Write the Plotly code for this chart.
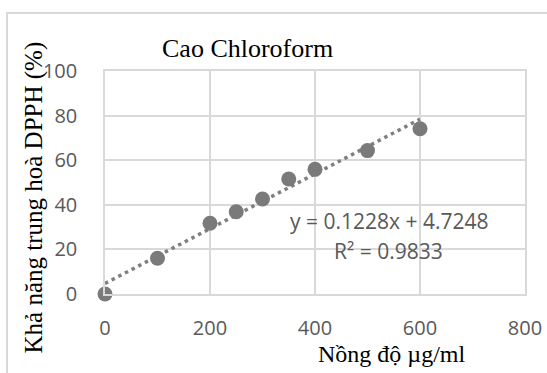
import plotly.graph_objects as go

# Data
concentration = [0, 100, 200, 250, 300, 350, 400, 500, 600]
inhibition = [0, 16.0, 31.7, 36.9, 42.6, 51.6, 55.9, 64.3, 74.1]

# Trendline as displayed in the chart
slope = 0.1228
intercept = 4.7248
r_squared = 0.9833
trend_x = [min(concentration), max(concentration)]
trend_y = [slope * v + intercept for v in trend_x]

x_ticks = [0, 200, 400, 600, 800]
y_ticks = [0, 20, 40, 60, 80, 100]

title_text = "Cao Chloroform"
x_title = "Nồng độ µg/ml"
y_title = "Khả năng trung hoà DPPH (%)"

grid = "#d9d9d9"
mark = "#7a7a7a"
tickc = "#595959"

fig = go.Figure()
fig.add_trace(go.Scatter(
    x=trend_x, y=trend_y, mode="lines",
    line=dict(color="#7f7f7f", width=3.5, dash="3.5px,4px"),
    hoverinfo="skip", showlegend=False, cliponaxis=False))
fig.add_trace(go.Scatter(
    x=concentration, y=inhibition, mode="markers",
    marker=dict(color=mark, size=15, line=dict(width=0)),
    showlegend=False, cliponaxis=False))

fig.update_layout(
    width=547, height=373,
    margin=dict(l=105, r=22, t=71, b=79, autoexpand=False),
    paper_bgcolor="white", plot_bgcolor="white",
    showlegend=False,
    xaxis=dict(range=[0, 800], tickvals=x_ticks, showgrid=True, gridcolor=grid,
               gridwidth=1.5, zeroline=False, showline=True, linecolor=grid,
               linewidth=1.5, mirror=True, ticks="", automargin=False,
               tickfont=dict(family="Open Sans", size=20, color=tickc),
               ticklabelstandoff=15),
    yaxis=dict(range=[0, 100], tickvals=y_ticks, showgrid=True, gridcolor=grid,
               gridwidth=1.5, zeroline=False, showline=True, linecolor=grid,
               linewidth=1.5, mirror=True, ticks="", automargin=False,
               tickfont=dict(family="Open Sans", size=20, color=tickc),
               ticklabelstandoff=22),
)

serif = "Liberation Serif"
fig.add_annotation(text=title_text, xref="paper", yref="paper", x=0.340, y=1.103,
                   xanchor="center", yanchor="middle", showarrow=False,
                   font=dict(family=serif, size=26, color="black"))
fig.add_annotation(text=x_title, xref="paper", yref="paper", x=0.681, y=-0.269,
                   xanchor="center", yanchor="middle", showarrow=False,
                   font=dict(family=serif, size=24, color="black"))
fig.add_annotation(text=y_title, xref="paper", yref="paper", x=-0.1714, y=0.4327,
                   xanchor="center", yanchor="middle", showarrow=False, textangle=-90,
                   font=dict(family=serif, size=25, color="black"))
fig.add_annotation(text=f"y = {slope}x + {intercept}", xref="paper", yref="paper",
                   x=0.676, y=0.327, xanchor="center", yanchor="middle", showarrow=False,
                   font=dict(family="Open Sans", size=21, color=tickc))
fig.add_annotation(text=f"R² = {r_squared}", xref="paper", yref="paper",
                   x=0.676, y=0.193, xanchor="center", yanchor="middle", showarrow=False,
                   font=dict(family="Open Sans", size=21, color=tickc))

# Outer chart border (partially cropped in the reference)
fig.add_shape(type="rect", xref="paper", yref="paper",
              x0=-0.2333, y0=-0.40, x1=1.07, y1=1.260,
              line=dict(color=grid, width=2), fillcolor="rgba(0,0,0,0)", layer="below")

fig.write_html("out.html")
